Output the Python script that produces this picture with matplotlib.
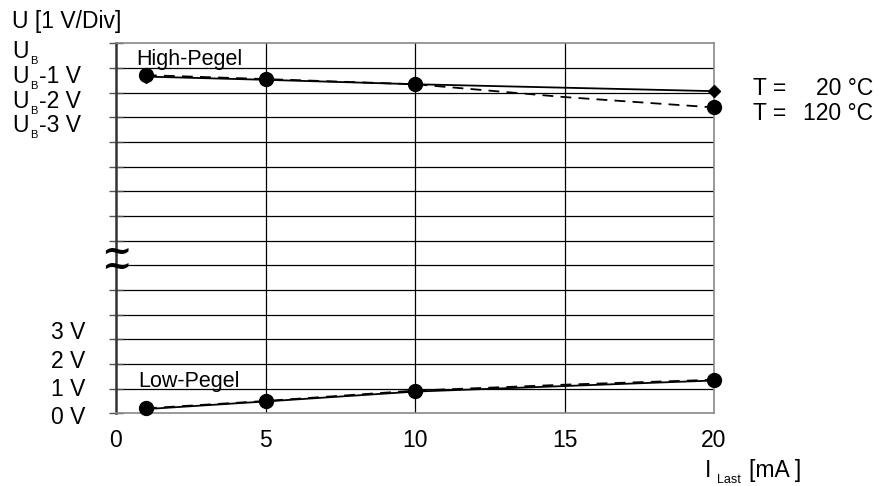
import matplotlib
matplotlib.use("Agg")
import matplotlib.pyplot as plt
from matplotlib.transforms import blended_transform_factory

plt.rcParams['font.family'] = ['Liberation Sans', 'DejaVu Sans']

W, H = 879, 486

# Laststrom in mA
i_last = [1, 5, 10, 20]
i_last_dashed = [1, 5, 10, 15, 20]

# Pegel in Raster-Einheiten (1 V/Div), oberste Linie = U_B
high_20c = [13.65, 13.52, 13.34, 13.06]
high_120c = [13.71, 13.55, 13.34, 12.82, 12.40]
low_20c = [0.17, 0.48, 0.88, 1.33]
low_120c = [0.20, 0.50, 0.92, 1.16, 1.36]

x_ticks = [0, 5, 10, 15, 20]
high_ticks = [15, 14, 13, 12]
high_suffix = ['', '-1 V', '-2 V', '-3 V']
low_labels = ['0 V', '1 V', '2 V', '3 V']
low_label_pos = [-0.45, 0.70, 1.84, 3.0]

fig = plt.figure(figsize=(W / 100, H / 100), dpi=100)
ax = fig.add_axes([116 / W, 1 - 413.3 / H, (714 - 116) / W, (413.3 - 43.3) / H])
ax.set_xlim(0, 20)
ax.set_ylim(0, 15)

# raster
ax.set_yticks(range(16))
ax.set_yticklabels([])
ax.set_xticks(x_ticks)
ax.set_xticklabels([str(v) for v in x_ticks], fontsize=16.5)
ax.tick_params(axis='x', length=0, pad=11)
ax.tick_params(axis='y', direction='inout', length=9.5, width=1, color='#555555')
ax.grid(True, color='black', linewidth=0.9)
ax.set_axisbelow(True)
for gl in (ax.get_xgridlines()[0], ax.get_xgridlines()[-1],
           ax.get_ygridlines()[0], ax.get_ygridlines()[-1]):
    gl.set_visible(False)
for side in ['top', 'right', 'bottom']:
    ax.spines[side].set_color('#888888')
    ax.spines[side].set_linewidth(1.2)
ax.spines['left'].set_color('#333333')
ax.spines['left'].set_linewidth(1.8)

# Kurven
ax.plot(i_last, high_20c, '-', color='black', lw=1.3, marker='D', ms=6.6,
        clip_on=False, zorder=3)
ax.plot(i_last_dashed, high_120c, color='black', lw=1.3, dashes=(6, 4),
        marker='o', ms=10, markevery=[0, 1, 2, 4], clip_on=False, zorder=4)
ax.plot(i_last, low_20c, '-', color='black', lw=1.3, marker='D', ms=6.6,
        clip_on=False, zorder=3)
ax.plot(i_last_dashed, low_120c, color='black', lw=1.3, dashes=(6, 4),
        marker='o', ms=10, markevery=[0, 1, 2, 4], clip_on=False, zorder=4)

ax.text(0.67, 14.12, 'High-Pegel', fontsize=15.5, va='baseline')
ax.text(0.74, 1.07, 'Low-Pegel', fontsize=15.5, va='baseline')

# Achsenbruch
for yb in [6.56, 5.93]:
    ax.text(0, yb, '~', ha='center', va='center', fontsize=26,
            family='DejaVu Serif', weight='heavy', clip_on=False, zorder=5)

# Y-Beschriftung
trans = blended_transform_factory(fig.transFigure, ax.transData)
for tick, suffix in zip(high_ticks, high_suffix):
    yb = tick - 0.61
    ax.text(12 / W, yb, 'U', transform=trans, fontsize=16.5, va='baseline')
    ax.annotate('B', xy=(30 / W, yb), xycoords=trans, xytext=(0, -4.3),
                textcoords='offset points', fontsize=8, va='baseline')
    if suffix:
        ax.text(39 / W, yb, suffix, transform=trans, fontsize=16.5, va='baseline')
for lab, yb in zip(low_labels, low_label_pos):
    ax.text(85 / W, yb, lab, transform=trans, fontsize=16.5, va='baseline', ha='right')

fig.text(12 / W, 1 - 28 / H, 'U [1 V/Div]', fontsize=16.5, va='baseline')

# X-Beschriftung
fig.text(705 / W, 1 - 477 / H, 'I', fontsize=16.5, va='baseline')
fig.text(717 / W, 1 - 483 / H, 'Last', fontsize=9, va='baseline')
fig.text(749 / W, 1 - 477 / H, '[mA ]', fontsize=16.5, va='baseline')

# Legende
for yb, temp in [(95, '20 °C'), (120, '120 °C')]:
    fig.text(753 / W, 1 - yb / H, 'T =', fontsize=16.5, va='baseline')
    fig.text(873 / W, 1 - yb / H, temp, fontsize=16.5, va='baseline', ha='right')

fig.savefig('out.png', dpi=100)
